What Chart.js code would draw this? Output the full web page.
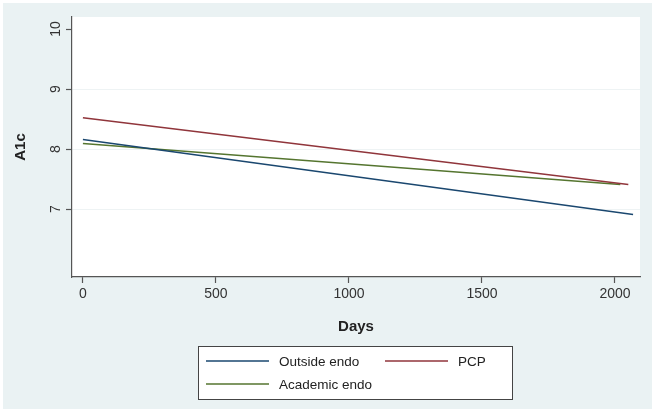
<!DOCTYPE html>
<html><head><meta charset="utf-8">
<script src="https://cdn.jsdelivr.net/npm/chart.js@4.4.1/dist/chart.umd.min.js"></script>
<style>html,body{margin:0;padding:0;background:#fff;}#wrap{width:657px;height:414px;position:relative;}</style>
</head><body><div id="wrap"><canvas id="c" width="657" height="414"></canvas></div>
<script>
const seriesNames = ["Outside endo", "PCP", "Academic endo"];
const outsideEndo = [{x: 0, y: 8.16}, {x: 2068, y: 6.91}];
const pcp = [{x: 0, y: 8.52}, {x: 2050, y: 7.41}];
const academicEndo = [{x: 0, y: 8.09}, {x: 2020, y: 7.41}];
const xTicks = [0, 500, 1000, 1500, 2000];
const yTicks = [7, 8, 9, 10];
const seriesColors = ["#1a476f", "#90353b", "#55752f"];

const FONT = "'Liberation Sans', Arial, sans-serif";
const BG = "#eaf2f3";

const bgPlugin = {
  id: 'bg',
  beforeDraw(chart) {
    const ctx = chart.ctx, a = chart.chartArea;
    ctx.save();
    ctx.fillStyle = '#ffffff';
    ctx.fillRect(0, 0, chart.width, chart.height);
    ctx.fillStyle = BG;
    ctx.fillRect(3, 3, 649, 406);
    ctx.fillStyle = '#ffffff';
    ctx.fillRect(a.left, a.top, a.right - a.left, a.bottom - a.top);
    ctx.restore();
  }
};

const yLabelPlugin = {
  id: 'ylabels',
  afterDraw(chart) {
    const ctx = chart.ctx, ys = chart.scales.y;
    ctx.save();
    ctx.fillStyle = '#333';
    ctx.font = '14px ' + FONT;
    ctx.textAlign = 'center';
    ctx.textBaseline = 'middle';
    yTicks.forEach(v => {
      const py = ys.getPixelForValue(v);
      ctx.save();
      ctx.translate(56, py);
      ctx.rotate(-Math.PI / 2);
      ctx.fillText(String(v), 0, 0);
      ctx.restore();
    });
    ctx.restore();
  }
};

const legendPlugin = {
  id: 'boxlegend',
  afterDraw(chart) {
    const ctx = chart.ctx;
    const bx = 198.5, by = 346.5, bw = 314, bh = 53;
    ctx.save();
    ctx.fillStyle = '#ffffff';
    ctx.fillRect(bx, by, bw, bh);
    ctx.strokeStyle = '#444';
    ctx.lineWidth = 1;
    ctx.strokeRect(bx, by, bw, bh);
    const pos = [[206, 361], [385, 361], [206, 384]];
    ctx.font = '13.5px ' + FONT;
    ctx.textBaseline = 'middle';
    ctx.textAlign = 'left';
    chart.data.datasets.forEach((ds, i) => {
      const [lx, ly] = pos[i];
      ctx.strokeStyle = ds.borderColor;
      ctx.lineWidth = 1.5;
      ctx.beginPath();
      ctx.moveTo(lx, ly);
      ctx.lineTo(lx + 63, ly);
      ctx.stroke();
      ctx.fillStyle = '#222';
      ctx.fillText(ds.label, lx + 73, ly + 1);
    });
    ctx.restore();
  }
};

const dataSets = [outsideEndo, pcp, academicEndo];

new Chart(document.getElementById('c'), {
  type: 'line',
  data: {
    datasets: dataSets.map((d, i) => ({
      label: seriesNames[i],
      data: d,
      borderColor: seriesColors[i],
      backgroundColor: seriesColors[i],
      borderWidth: 1.5,
      pointRadius: 0,
      tension: 0,
      fill: false
    }))
  },
  options: {
    responsive: false,
    animation: false,
    events: [],
    layout: { padding: { left: 8, top: 17, right: 17, bottom: 74 } },
    plugins: { legend: { display: false }, tooltip: { enabled: false } },
    scales: {
      x: {
        type: 'linear',
        min: -41, max: 2094,
        afterBuildTicks: s => { s.ticks = xTicks.map(v => ({ value: v })); },
        afterFit: s => { s.height = 63; },
        border: { display: true, color: '#555', width: 1.2 },
        grid: { drawOnChartArea: false, tickLength: 6, tickColor: '#555', tickWidth: 1.2 },
        ticks: { color: '#333', font: { family: FONT, size: 14 }, padding: 3, maxRotation: 0, autoSkip: false,
                 callback: v => String(v) },
        title: { display: true, text: 'Days', color: '#222', font: { family: FONT, size: 15, weight: 'bold' }, padding: { top: 4, bottom: 4 } }
      },
      y: {
        type: 'linear',
        min: 5.867, max: 10.2,
        afterBuildTicks: s => { s.ticks = yTicks.map(v => ({ value: v })); },
        afterFit: s => { s.width = 64; },
        border: { display: true, color: '#555', width: 1.2 },
        grid: {
          color: ctx => (ctx.tick && ctx.tick.value === 10) ? 'rgba(0,0,0,0)' : '#eef3f4',
          lineWidth: 1, tickLength: 6, tickColor: '#555', tickWidth: 1.2
        },
        ticks: { display: true, color: 'rgba(0,0,0,0)', font: { family: FONT, size: 14 }, padding: 2 },
        title: { display: true, text: 'A1c', color: '#222', font: { family: FONT, size: 15, weight: 'bold' }, padding: { top: 4, bottom: 4 } }
      }
    }
  },
  plugins: [bgPlugin, yLabelPlugin, legendPlugin]
});
</script>
</body></html>
